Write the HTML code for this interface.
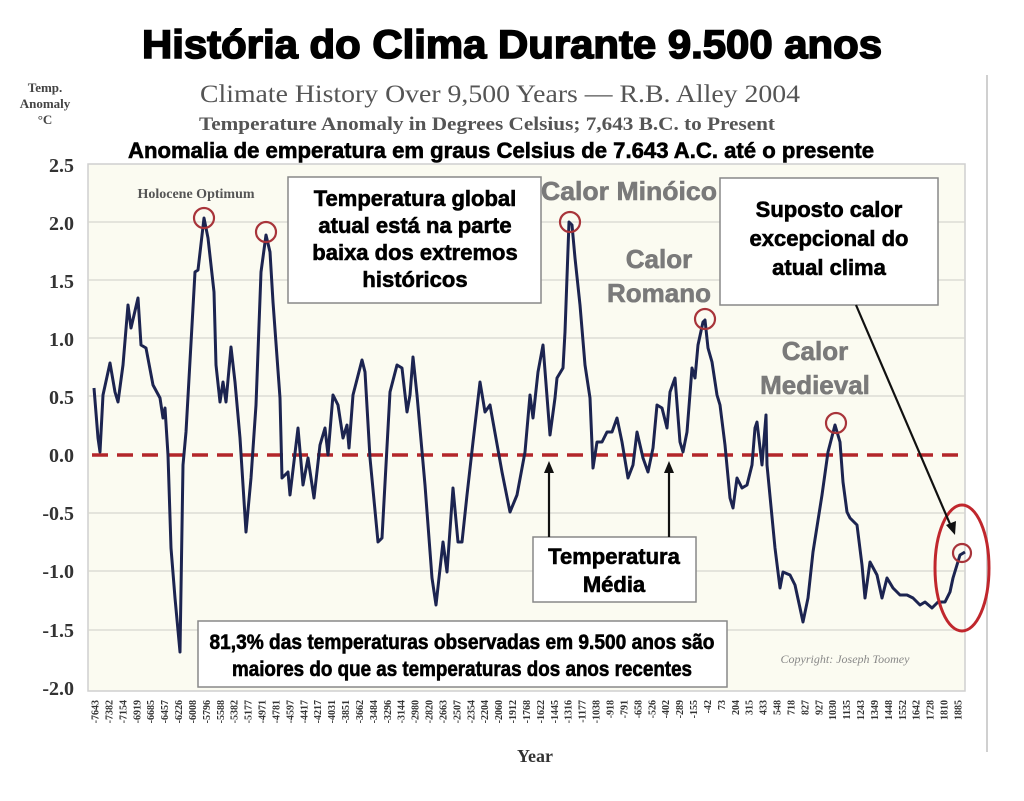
<!DOCTYPE html>
<html><head><meta charset="utf-8"><style>
html,body{margin:0;padding:0;background:#fff}
svg{display:block}
.hd{font-family:"Liberation Sans Narrow","Liberation Sans",sans-serif;font-weight:bold}
.sf{font-family:"Liberation Serif",serif}
</style></head><body>
<svg width="1024" height="801" viewBox="0 0 1024 801" xmlns="http://www.w3.org/2000/svg">
<rect width="1024" height="801" fill="#fff"/>
<line x1="987" y1="75" x2="987" y2="752" stroke="#d0d0d0" stroke-width="2"/>
<rect x="88" y="164" width="877" height="527" fill="#fbfbf1" stroke="#cfcfcf" stroke-width="1.5"/>
<g stroke="#d6d6d0" stroke-width="1.2">
<line x1="88" y1="222" x2="965" y2="222"/><line x1="88" y1="280" x2="965" y2="280"/>
<line x1="88" y1="338" x2="965" y2="338"/><line x1="88" y1="396" x2="965" y2="396"/>
<line x1="88" y1="513" x2="965" y2="513"/><line x1="88" y1="571" x2="965" y2="571"/>
<line x1="88" y1="630" x2="965" y2="630"/>
</g>
<line x1="92" y1="455" x2="965" y2="455" stroke="#b3262a" stroke-width="3.5" stroke-dasharray="16,9"/>
<text x="512" y="58" text-anchor="middle" class="hd" font-size="40" fill="#000" stroke="#000" stroke-width="1.6" textLength="740" lengthAdjust="spacingAndGlyphs">História do Clima Durante 9.500 anos</text>
<text x="500" y="102" text-anchor="middle" class="sf" font-size="25" fill="#555" textLength="600" lengthAdjust="spacingAndGlyphs">Climate History Over 9,500 Years — R.B. Alley 2004</text>
<text x="487" y="130" text-anchor="middle" class="sf" font-size="19" fill="#555" font-weight="bold" textLength="576" lengthAdjust="spacingAndGlyphs">Temperature Anomaly in Degrees Celsius; 7,643 B.C. to Present</text>
<text x="501" y="158" text-anchor="middle" class="hd" font-size="22" fill="#000" stroke="#000" stroke-width="0.6" textLength="746" lengthAdjust="spacingAndGlyphs">Anomalia de emperatura em graus Celsius de 7.643 A.C. até o presente</text>
<g class="sf" font-weight="bold" font-size="13" fill="#444" text-anchor="middle">
<text x="45" y="92">Temp.</text><text x="45" y="108">Anomaly</text><text x="45" y="124">°C</text>
</g>
<g class="sf" font-weight="bold" font-size="20" fill="#333" text-anchor="end">
<text x="74" y="172">2.5</text><text x="74" y="230">2.0</text><text x="74" y="288">1.5</text>
<text x="74" y="346">1.0</text><text x="74" y="404">0.5</text><text x="74" y="462">0.0</text>
<text x="74" y="520">-0.5</text><text x="74" y="578">-1.0</text><text x="74" y="637">-1.5</text>
<text x="74" y="695">-2.0</text>
</g>
<g class="sf" font-weight="bold" font-size="10" fill="#333" text-anchor="end">
<text transform="translate(98.5,700) rotate(-90)">-7643</text>
<text transform="translate(112.4,700) rotate(-90)">-7382</text>
<text transform="translate(126.3,700) rotate(-90)">-7154</text>
<text transform="translate(140.3,700) rotate(-90)">-6919</text>
<text transform="translate(154.2,700) rotate(-90)">-6685</text>
<text transform="translate(168.1,700) rotate(-90)">-6457</text>
<text transform="translate(182.0,700) rotate(-90)">-6226</text>
<text transform="translate(195.9,700) rotate(-90)">-6008</text>
<text transform="translate(209.9,700) rotate(-90)">-5796</text>
<text transform="translate(223.8,700) rotate(-90)">-5588</text>
<text transform="translate(237.7,700) rotate(-90)">-5382</text>
<text transform="translate(251.6,700) rotate(-90)">-5177</text>
<text transform="translate(265.5,700) rotate(-90)">-4971</text>
<text transform="translate(279.4,700) rotate(-90)">-4781</text>
<text transform="translate(293.4,700) rotate(-90)">-4597</text>
<text transform="translate(307.3,700) rotate(-90)">-4417</text>
<text transform="translate(321.2,700) rotate(-90)">-4217</text>
<text transform="translate(335.1,700) rotate(-90)">-4031</text>
<text transform="translate(349.0,700) rotate(-90)">-3851</text>
<text transform="translate(363.0,700) rotate(-90)">-3662</text>
<text transform="translate(376.9,700) rotate(-90)">-3484</text>
<text transform="translate(390.8,700) rotate(-90)">-3296</text>
<text transform="translate(404.7,700) rotate(-90)">-3144</text>
<text transform="translate(418.6,700) rotate(-90)">-2980</text>
<text transform="translate(432.6,700) rotate(-90)">-2820</text>
<text transform="translate(446.5,700) rotate(-90)">-2663</text>
<text transform="translate(460.4,700) rotate(-90)">-2507</text>
<text transform="translate(474.3,700) rotate(-90)">-2354</text>
<text transform="translate(488.2,700) rotate(-90)">-2204</text>
<text transform="translate(502.2,700) rotate(-90)">-2060</text>
<text transform="translate(516.1,700) rotate(-90)">-1912</text>
<text transform="translate(530.0,700) rotate(-90)">-1768</text>
<text transform="translate(543.9,700) rotate(-90)">-1622</text>
<text transform="translate(557.8,700) rotate(-90)">-1445</text>
<text transform="translate(571.7,700) rotate(-90)">-1316</text>
<text transform="translate(585.7,700) rotate(-90)">-1177</text>
<text transform="translate(599.6,700) rotate(-90)">-1038</text>
<text transform="translate(613.5,700) rotate(-90)">-918</text>
<text transform="translate(627.4,700) rotate(-90)">-791</text>
<text transform="translate(641.3,700) rotate(-90)">-658</text>
<text transform="translate(655.3,700) rotate(-90)">-526</text>
<text transform="translate(669.2,700) rotate(-90)">-402</text>
<text transform="translate(683.1,700) rotate(-90)">-289</text>
<text transform="translate(697.0,700) rotate(-90)">-155</text>
<text transform="translate(710.9,700) rotate(-90)">-42</text>
<text transform="translate(724.9,700) rotate(-90)">73</text>
<text transform="translate(738.8,700) rotate(-90)">204</text>
<text transform="translate(752.7,700) rotate(-90)">315</text>
<text transform="translate(766.6,700) rotate(-90)">433</text>
<text transform="translate(780.5,700) rotate(-90)">548</text>
<text transform="translate(794.5,700) rotate(-90)">718</text>
<text transform="translate(808.4,700) rotate(-90)">827</text>
<text transform="translate(822.3,700) rotate(-90)">927</text>
<text transform="translate(836.2,700) rotate(-90)">1030</text>
<text transform="translate(850.1,700) rotate(-90)">1135</text>
<text transform="translate(864.0,700) rotate(-90)">1243</text>
<text transform="translate(878.0,700) rotate(-90)">1349</text>
<text transform="translate(891.9,700) rotate(-90)">1448</text>
<text transform="translate(905.8,700) rotate(-90)">1552</text>
<text transform="translate(919.7,700) rotate(-90)">1642</text>
<text transform="translate(933.6,700) rotate(-90)">1728</text>
<text transform="translate(947.6,700) rotate(-90)">1810</text>
<text transform="translate(961.5,700) rotate(-90)">1885</text>
</g>
<text x="535" y="762" text-anchor="middle" class="sf" font-weight="bold" font-size="18" fill="#333">Year</text>
<polyline fill="none" stroke="#1c2450" stroke-width="3" stroke-linejoin="round" points="
94,388 98,438 100,452 103,395 110,363 115,392 118,402 123,365 128,305 131,328 138,298 141,345 146,348 153,385 160,398 163,418 165,408 168,455 171,548 175,598 180,652 183,465 186,432 195,272 198,270 204,218 208,238 214,292 216,365 220,402 223,382 226,402 231,347 235,382 240,438 246,532 251,478 256,405 261,272 266,235 270,252 273,302 280,398 282,478 288,472 290,495 298,428 303,485 308,458 314,498 320,445 325,428 328,455 333,395 338,405 343,438 347,425 349,448 353,395 362,360 365,372 370,458 378,542 382,538 390,392 397,365 402,368 407,412 410,395 413,357 417,395 425,485 432,578 436,605 443,542 447,572 453,488 458,542 462,542 467,495 473,442 480,382 485,412 490,405 502,472 510,512 517,495 525,452 530,395 533,418 538,372 543,345 550,435 555,398 557,378 563,368 565,332 569,222 572,225 575,258 580,305 585,365 590,398 593,468 597,442 602,442 607,432 612,432 617,418 622,442 628,478 633,465 637,432 643,458 648,472 653,448 657,405 662,408 667,428 670,392 675,378 680,442 683,452 687,432 692,368 695,378 698,345 703,322 705,320 708,348 712,362 717,395 720,405 725,445 730,498 733,508 737,478 742,488 747,485 752,465 755,428 757,422 762,465 766,415 767,465 775,548 780,588 783,572 790,575 795,585 800,608 803,622 808,598 813,552 822,495 828,452 835,425 840,442 843,482 847,512 850,518 857,525 862,565 865,598 870,562 877,575 882,598 887,578 893,588 900,595 907,595 913,598 920,605 925,602 932,608 938,602 945,602 950,592 953,578 960,555 965,552"/>
<g fill="none" stroke="#a8343a" stroke-width="2.2">
<circle cx="204" cy="218" r="10"/><circle cx="266" cy="232" r="10"/>
<circle cx="570" cy="222" r="10"/><circle cx="705" cy="319" r="10"/>
<circle cx="836" cy="423" r="10"/><circle cx="962" cy="553" r="9"/>
</g>
<ellipse cx="962" cy="568" rx="27" ry="63" fill="none" stroke="#c0272d" stroke-width="3"/>
<text x="196" y="198" text-anchor="middle" class="sf" font-weight="bold" font-size="14" fill="#555">Holocene Optimum</text>
<text x="629" y="200" text-anchor="middle" class="hd" font-size="26" fill="#7a7a7a" stroke="#7a7a7a" stroke-width="0.6" textLength="176" lengthAdjust="spacingAndGlyphs">Calor Minóico</text>
<text x="659" y="268" text-anchor="middle" class="hd" font-size="26" fill="#7a7a7a" stroke="#7a7a7a" stroke-width="0.6">Calor</text>
<text x="659" y="302" text-anchor="middle" class="hd" font-size="26" fill="#7a7a7a" stroke="#7a7a7a" stroke-width="0.6">Romano</text>
<text x="815" y="360" text-anchor="middle" class="hd" font-size="26" fill="#7a7a7a" stroke="#7a7a7a" stroke-width="0.6">Calor</text>
<text x="815" y="394" text-anchor="middle" class="hd" font-size="26" fill="#7a7a7a" stroke="#7a7a7a" stroke-width="0.6">Medieval</text>
<text x="845" y="663" text-anchor="middle" class="sf" font-style="italic" font-size="12" fill="#888">Copyright: Joseph Toomey</text>
<g fill="#fff" stroke="#888" stroke-width="1.5">
<rect x="288" y="177" width="253" height="126"/>
<rect x="720" y="178" width="218" height="127"/>
<rect x="533" y="537" width="163" height="65"/>
<rect x="198" y="621" width="529" height="66"/>
</g>
<g class="hd" font-size="22" fill="#000" stroke="#000" stroke-width="0.6" text-anchor="middle">
<text x="415" y="206">Temperatura global</text>
<text x="415" y="233">atual está na parte</text>
<text x="415" y="260">baixa dos extremos</text>
<text x="415" y="287">históricos</text>
<text x="829" y="217">Suposto calor</text>
<text x="829" y="246">excepcional do</text>
<text x="829" y="275">atual clima</text>
<text x="614" y="564">Temperatura</text>
<text x="614" y="592">Média</text>
<text x="462" y="649" font-size="21" textLength="505" lengthAdjust="spacingAndGlyphs">81,3% das temperaturas observadas em 9.500 anos são</text>
<text x="462" y="676" font-size="21" textLength="460" lengthAdjust="spacingAndGlyphs">maiores do que as temperaturas dos anos recentes</text>
</g>
<g stroke="#111" stroke-width="2.2" fill="#111">
<line x1="549" y1="537" x2="549" y2="470"/><polygon points="549,461 544,473 554,473" stroke="none"/>
<line x1="669" y1="537" x2="669" y2="470"/><polygon points="669,461 664,473 674,473" stroke="none"/>
<line x1="856" y1="305" x2="950" y2="524"/><polygon points="955,535 946,525 956,521" stroke="none"/>
</g>
</svg>
</body></html>
